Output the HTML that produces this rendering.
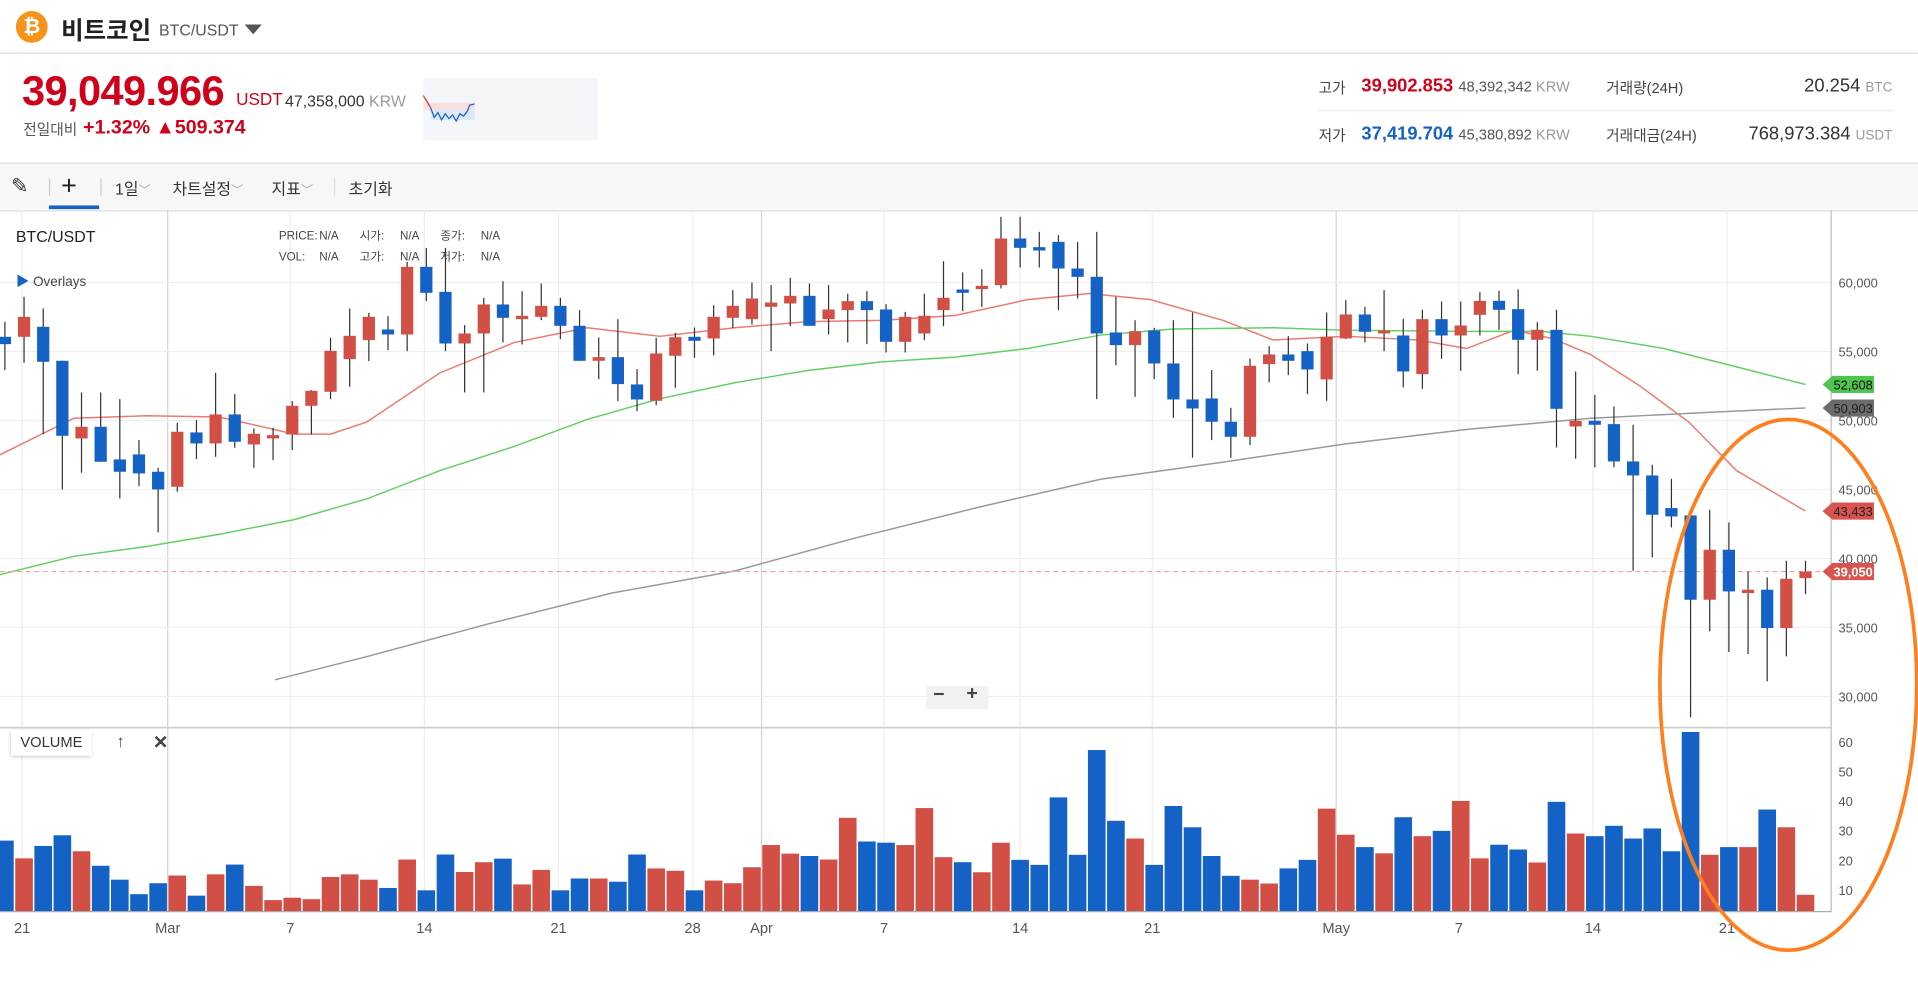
<!DOCTYPE html>
<html><head><meta charset="utf-8">
<style>
html,body{margin:0;padding:0;width:1918px;height:1004px;overflow:hidden;background:#fff;}
#wrap{position:absolute;left:0;top:0;width:1568px;height:821px;transform:scale(1.22321,1.2229);transform-origin:0 0;font-family:"Liberation Sans","Noto Sans CJK KR",sans-serif;color:#333;}
.a{position:absolute;white-space:nowrap;}
svg text{font-family:"Liberation Sans","Noto Sans CJK KR",sans-serif;}
.lg span{display:inline-block;width:33px;}
</style></head><body>
<div id="wrap">
  <div class="a" style="left:13px;top:9px;width:26px;height:26px;border-radius:50%;background:#f7931a;color:#fff;font-weight:bold;font-size:17px;text-align:center;line-height:26px;">₿</div>
  <div class="a" style="left:50px;top:9px;font-size:20px;font-weight:bold;color:#222;">비트코인</div>
  <div class="a" style="left:130px;top:17px;font-size:13px;color:#555;">BTC/USDT</div>
  <div class="a" style="left:200px;top:20px;width:0;height:0;border-left:7px solid transparent;border-right:7px solid transparent;border-top:8px solid #555;"></div>
  <div class="a" style="left:0;top:43px;width:1568px;height:1px;background:#ddd;"></div>

  <div class="a" style="left:18px;top:56px;font-size:34px;font-weight:bold;color:#d0021b;letter-spacing:-0.5px;">39,049.966</div>
  <div class="a" style="left:193px;top:73px;font-size:14px;color:#d0021b;">USDT</div>
  <div class="a" style="left:233px;top:75px;font-size:13px;color:#333;">47,358,000 <span style="color:#999">KRW</span></div>
  <div class="a" style="left:19px;top:97px;font-size:12px;color:#555;">전일대비</div>
  <div class="a" style="left:68px;top:96px;font-size:16px;font-weight:bold;color:#d0021b;">+1.32% ▲509.374</div>
  <div class="a" style="left:346px;top:64px;width:143px;height:51px;background:#f4f6f9;">
    <svg width="143" height="51"><rect x="0" y="20" width="42" height="6" fill="#f8dede"/><rect x="6" y="26" width="36" height="8" fill="#dde7f5"/>
    <polyline points="0,14 3,19 6,24 9,32 12,28 15,34 18,29 21,33 24,30 27,35 30,29 33,31 36,27 38,22 42,21" fill="none" stroke="#1462c6" stroke-width="1"/>
    <polyline points="0,14 3,19 6,24" fill="none" stroke="#d14f45" stroke-width="1"/></svg>
  </div>
  <div class="a" style="left:1078px;top:63px;font-size:12px;color:#444;">고가</div>
  <div class="a" style="left:1113px;top:62px;font-size:15px;font-weight:bold;color:#d0021b;">39,902.853 <span style="font-size:12px;font-weight:normal;color:#555;">48,392,342 <span style="color:#999">KRW</span></span></div>
  <div class="a" style="left:1078px;top:102px;font-size:12px;color:#444;">저가</div>
  <div class="a" style="left:1113px;top:101px;font-size:15px;font-weight:bold;color:#1462c6;">37,419.704 <span style="font-size:12px;font-weight:normal;color:#555;">45,380,892 <span style="color:#999">KRW</span></span></div>
  <div class="a" style="left:1313px;top:63px;font-size:12px;color:#444;">거래량(24H)</div>
  <div class="a" style="left:1400px;width:147px;text-align:right;top:62px;font-size:15px;color:#333;">20.254 <span style="font-size:11px;color:#999">BTC</span></div>
  <div class="a" style="left:1313px;top:102px;font-size:12px;color:#444;">거래대금(24H)</div>
  <div class="a" style="left:1400px;width:147px;text-align:right;top:101px;font-size:15px;color:#333;">768,973.384 <span style="font-size:11px;color:#999">USDT</span></div>
  <div class="a" style="left:1078px;top:90px;width:470px;height:1px;background:#eee;"></div>

  <div class="a" style="left:0;top:133px;width:1568px;height:38px;background:#f7f7f7;border-top:1px solid #ddd;border-bottom:1px solid #ddd;"></div>
  <div class="a" style="left:9px;top:143px;font-size:17px;color:#333;">✎</div>
  <div class="a" style="left:40px;top:146px;width:1px;height:14px;background:#ccc;"></div>
  <div class="a" style="left:50px;top:139px;font-size:22px;color:#222;">+</div>
  <div class="a" style="left:40px;top:168px;width:41px;height:3px;background:#1462c6;"></div>
  <div class="a" style="left:82px;top:146px;width:1px;height:14px;background:#ccc;"></div>
  <div class="a" style="left:94px;top:144px;font-size:13px;color:#333;">1일<span style="color:#aaa;font-size:10px">﹀</span></div>
  <div class="a" style="left:141px;top:144px;font-size:13px;color:#333;">차트설정<span style="color:#aaa;font-size:10px">﹀</span></div>
  <div class="a" style="left:222px;top:144px;font-size:13px;color:#333;">지표<span style="color:#aaa;font-size:10px">﹀</span></div>
  <div class="a" style="left:273px;top:146px;width:1px;height:14px;background:#ddd;"></div>
  <div class="a" style="left:285px;top:144px;font-size:13px;color:#333;">초기화</div>

  <svg id="chart" class="a" style="left:0;top:172px;" width="1568" height="649" viewBox="0 172 1568 649">
    <g id="grid"></g><g id="vol"></g><g id="ma"></g><g id="candles"></g><g id="axes"></g>
  </svg>

  <div class="a" style="left:13px;top:186px;font-size:13px;color:#222;">BTC/USDT</div>
  <div class="a lg" style="left:228px;top:185px;font-size:9.5px;color:#444;line-height:17px;">
    <span>PRICE:</span><span>N/A</span><span>시가:</span><span>N/A</span><span>종가:</span>N/A<br>
    <span>VOL:</span><span>N/A</span><span>고가:</span><span>N/A</span><span>저가:</span>N/A</div>
  <div class="a" style="left:13px;top:222px;font-size:11px;color:#444;"><span style="color:#1462c6">▶</span> Overlays</div>
  <div class="a" style="left:757px;top:561px;width:51px;height:19px;background:#f2f2f2;border-radius:2px;"></div>
  <div class="a" style="left:763px;top:560px;font-size:16px;color:#444;font-weight:bold;">−</div>
  <div class="a" style="left:790px;top:559px;font-size:16px;color:#444;font-weight:bold;">+</div>
  <div class="a" style="left:9px;top:597px;width:66px;height:21px;background:#fff;box-shadow:0 1px 3px rgba(0,0,0,0.25);font-size:12px;color:#333;text-align:center;line-height:20px;">VOLUME</div>
  <div class="a" style="left:95px;top:598px;font-size:14px;color:#555;">↑</div>
  <div class="a" style="left:125px;top:598px;font-size:15px;color:#444;font-weight:bold;">✕</div>
</div>
<script>
var opens=[56063,56063,56788,54325,48698,49543,47176,47539,46283,45196,49133,48336,50437,48263,48698,48988,51064,52079,54446,55822,56595,56233,61135,59324,55580,56305,58406,57343,57513,58309,56861,54325,54590,52610,51427,54687,56063,55943,57440,57343,58237,58479,59034,57343,57996,58648,58044,55701,56305,57996,59493,59517,59807,63188,62560,62946,61014,60411,56378,55460,56522,54132,51523,51596,49905,48819,54083,54784,55025,52972,55943,57682,56305,56159,53358,57343,56159,57656,58671,58067,55845,56570,49566,49976,49735,47031,46016,43650,43118,37008,40631,37491,37733,34955,38578];
var highs=[57150,58962,58116,54325,52030,52030,51548,48577,46572,49833,50026,53455,51910,49422,49471,51403,52200,55991,58116,57802,57561,61497,62512,62512,56909,58889,60097,59372,59928,58889,57996,56015,57343,53721,55991,56353,56739,58358,59445,60000,59807,60338,59928,59807,59179,59372,58430,57875,59179,61546,60724,60966,64758,64758,63671,63429,62946,63671,58962,57271,56716,57271,57827,53649,50920,54494,55387,56112,55580,57827,58720,58237,59445,57367,58019,58623,58623,59300,59400,59500,57125,58019,53551,51860,51015,49687,46789,45775,43118,43529,42611,39061,38626,39834,39834];
var lows=[53649,54180,49012,45003,46210,47007,44351,45244,41887,44834,47200,47369,48022,46572,47128,47853,48988,51548,52441,54301,55098,55025,58648,55025,52030,52030,55653,55508,57271,55895,54325,52997,51403,50678,51113,52369,54542,54711,56716,56957,55025,56836,56861,56233,55653,55532,54929,54929,55822,56836,57923,58237,59565,61087,61087,57996,58841,51548,54011,51717,52997,50195,47297,48577,47297,48215,52755,53287,51910,51427,55895,55653,55025,52392,52295,54469,53599,56159,56570,53358,53599,48045,47224,46596,46596,39109,40075,42249,28484,34714,33216,33071,31091,32902,37419];
var closes=[55532,57513,54252,48891,49543,47007,46283,46162,45003,49181,48336,50437,48456,49036,48939,51064,52151,55049,56136,57513,56233,61135,59251,55580,56305,58406,57440,57585,58309,56861,54325,54590,52634,51523,54856,56039,55774,57513,58309,58841,58551,59034,56861,58044,58648,57996,55701,57513,57585,58889,59251,59759,63188,62512,62318,61014,60411,56305,55460,56474,54132,51523,50871,49905,48819,53963,54784,54325,53697,56063,57682,56426,56522,53551,57343,56159,56884,58671,58019,55845,56570,50846,49976,49687,47031,46016,43166,43046,37008,40631,37612,37733,34955,38529,39050];
var volumes=[26.7,20.7,24.9,28.5,23.1,18.2,13.5,8.6,12.3,14.9,8.1,15.3,18.6,11.4,6.6,7.4,6.9,14.4,15.3,13.5,10.7,20.3,9.9,22.0,16.1,19.4,20.6,11.9,16.8,9.9,13.9,13.9,12.8,22.0,17.3,16.5,9.9,13.2,12.3,17.7,25.2,22.3,21.5,20.3,34.4,26.4,26.0,25.2,37.7,21.1,19.4,16,26,20.2,18.5,41.3,21.9,57.3,33.4,27.4,18.5,38.4,31.2,21.5,14.8,13.5,12.2,17.3,20.2,37.5,28.7,24.5,22.4,34.6,28.2,30,40.1,20.7,25.3,23.7,19.3,39.8,29.1,28.2,31.7,27.4,30.8,23.1,63.4,21.9,24.5,24.5,37.2,31.2,8.4];
var maShortIdx=[-0.26,3.6,7.4,11.2,15.1,17,18.9,22.7,26.6,30.4,34.2,38.1,41.9,45.7,49.6,53.4,56.6,59.8,63.6,66.2,70,73.8,76.3,78.8,80.8,82.8,85.3,87.9,90.4,94];
var maShortVal=[47508,50165,50343,50254,49014,49014,49900,53444,55659,56722,56102,56722,57165,57254,57608,58760,59203,58760,57254,55836,56102,55836,55216,56544,55930,54773,52557,49900,46356,43433];
var maMidIdx=[-0.26,3.6,7.4,11.2,15.1,18.9,22.7,26.6,30.4,34.2,38.1,41.9,45.7,49.6,53.4,57.2,61,66.2,70,76.4,80.2,82.8,86.6,90.4,94];
var maMidVal=[38825,40154,40863,41749,42812,44318,46356,48127,50077,51583,52735,53621,54241,54595,55216,56190,56633,56722,56544,56456,56456,56102,55216,53887,52608];
var maLongIdx=[14.1,18.9,25.3,31.7,38.1,44.4,50.8,57.2,63.6,70,76.4,82.8,89.2,94];
var maLongVal=[31205,32888,35280,37496,39090,41483,43698,45736,46976,48305,49368,50165,50608,50903];
var priceTicks=[60000,55000,50000,45000,40000,35000,30000];
var volTicks=[60,50,40,30,20,10];
var dateLabels=["21","Mar","7","14","21","28","Apr","7","14","21","May","7","14","21"];
var dateIdx=[0.9,8.5,14.9,21.9,28.9,35.9,39.5,45.9,53,59.9,69.5,75.9,82.9,89.9];
var majorDates=[false,true,false,false,false,false,true,false,false,false,true,false,false,false];
var lastPrice=39050;

var NS="http://www.w3.org/2000/svg";
var UP="#d14f45",DOWN="#1462c6";
function xS(i){return 4+i*15.66;}
function yP(p){return 231+(60000-p)*0.011283;}
function yV(v){return 752-v*2.42;}
function mk(parent,tag,attrs){var e=document.createElementNS(NS,tag);for(var k in attrs)e.setAttribute(k,attrs[k]);document.getElementById(parent).appendChild(e);return e;}

dateLabels.forEach(function(lbl,i){
  var x=xS(dateIdx[i]);
  var l=mk('grid','line',{x1:x,x2:x,y1:172,y2:745,stroke:majorDates[i]?'#d4d4d4':'#eeeeee','stroke-width':1});
  
  
  var t=mk('axes','text',{x:x,y:763,'font-size':12,fill:'#555','text-anchor':'middle'});
  t.textContent=lbl;
  
  
});
priceTicks.forEach(function(p){
  var y=yP(p);
  var l=mk('grid','line',{x1:0,x2:1497,y1:y,y2:y,stroke:'#efefef','stroke-width':1});
  
  
  var t=mk('axes','text',{x:1503,y:y+4,'font-size':10.5,fill:'#555'});
  t.textContent=p.toLocaleString('en-US');
  
  
});
volTicks.forEach(function(v){
  var t=mk('axes','text',{x:1503,y:yV(v)+4,'font-size':10.5,fill:'#555'});
  t.textContent=String(v);
  
  
});
var ax=mk('axes','line',{x1:1497,x2:1497,y1:172,y2:746,stroke:'#bbb','stroke-width':1});


var sep=mk('axes','line',{x1:0,x2:1497,y1:595,y2:595,stroke:'#cfcfcf','stroke-width':1.5});


var bl=mk('axes','line',{x1:0,x2:1497,y1:745.5,y2:745.5,stroke:'#aaa','stroke-width':1});



volumes.forEach(function(v,i){
  var x=xS(i),y=Math.max(yV(v),597);
  var r=mk('vol','rect',{x:x-7.2,y:y,width:14.4,height:Math.max(745-y,0),fill:closes[i]>=opens[i]?UP:DOWN});
  
  
});

function maLine(idx,val,color,name){
  var pts=idx.map(function(k,j){return xS(k).toFixed(1)+','+yP(val[j]).toFixed(1);}).join(' ');
  var p=mk('ma','polyline',{points:pts,fill:'none',stroke:color,'stroke-width':1.2});
  
  
}
maLine(maShortIdx,maShortVal,'#ea7a72','ma-short-line');
maLine(maMidIdx,maMidVal,'#62cf62','ma-mid-line');
maLine(maLongIdx,maLongVal,'#999999','ma-long-line');

var lp=mk('ma','line',{x1:0,x2:1490,y1:yP(lastPrice),y2:yP(lastPrice),stroke:'#f0a0a0','stroke-width':1,'stroke-dasharray':'4,3'});



opens.forEach(function(o,i){
  var c=closes[i],x=xS(i),up=c>=o,col=up?UP:DOWN;
  var w=mk('candles','line',{x1:x,x2:x,y1:yP(highs[i]),y2:yP(lows[i]),stroke:'#333','stroke-width':1});
  
  
  var top=yP(Math.max(o,c)),bot=yP(Math.min(o,c));
  var b=mk('candles','rect',{x:x-5,y:top,width:10,height:Math.max(bot-top,2),fill:col});
  
  
});

var tagVals=[maMidVal[maMidVal.length-1],maLongVal[maLongVal.length-1],maShortVal[maShortVal.length-1],lastPrice];
var tagCols=['#4fc44f','#6b6b6b','#d9534f','#d9534f'];
var tagText=['#111','#222','#222','#fff'];
tagVals.forEach(function(v,i){
  var y=yP(v);
  var g=mk('axes','path',{d:'M1490,'+y+' L1498,'+(y-7)+' L1532,'+(y-7)+' L1532,'+(y+7)+' L1498,'+(y+7)+' Z',fill:tagCols[i]});
  
  
  var t=mk('axes','text',{x:1515,y:y+4,'font-size':10.5,fill:tagText[i],'text-anchor':'middle','font-weight':i==3?'bold':'normal'});
  t.textContent=Math.round(v).toLocaleString('en-US');
  
  
});

var el=mk('axes','ellipse',{cx:1462,cy:560,rx:105,ry:217,fill:'none',stroke:'#ff7f1e','stroke-width':3});


</script>
</body></html>
